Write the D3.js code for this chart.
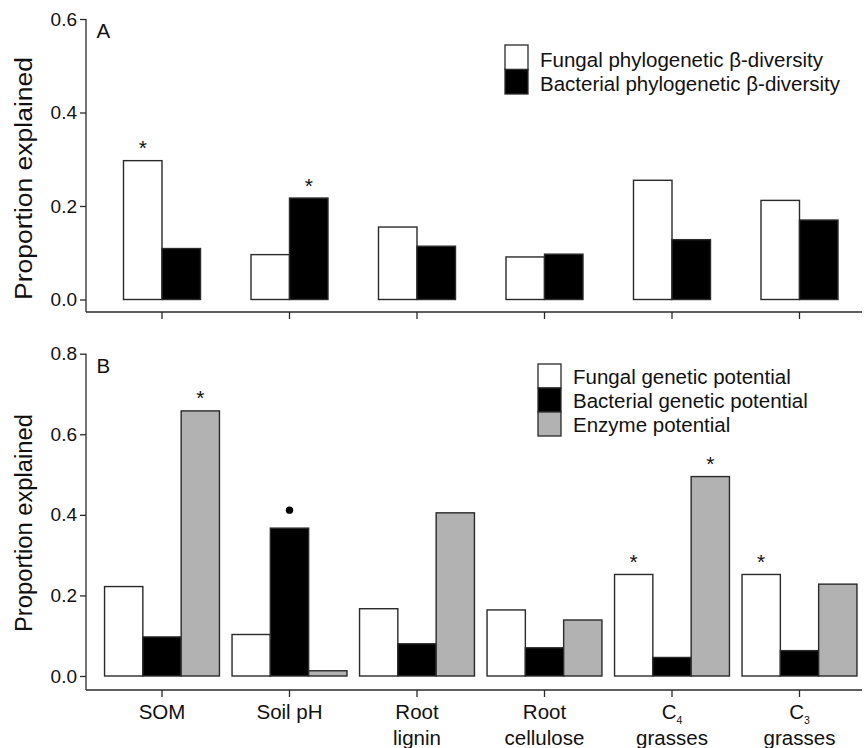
<!DOCTYPE html>
<html><head><meta charset="utf-8">
<script src="https://cdn.jsdelivr.net/npm/d3@7"></script>
<style>
body{margin:0;background:#fff}
svg{display:block}
text{font-family:"Liberation Sans",Arial,Helvetica,sans-serif;fill:#111}
</style>
</head><body>
<svg id="chart" width="864" height="748"></svg>
<script>
// ---- data ----
const categories = ["SOM", "Soil pH", "Root lignin", "Root cellulose", "C4 grasses", "C3 grasses"];
const catLine1 = ["SOM", "Soil pH", "Root", "Root", "C", "C"];
const catSub   = ["", "", "", "", "4", "3"];
const catLine2 = ["", "", "lignin", "cellulose", "grasses", "grasses"];

const seriesA = ["Fungal phylogenetic β-diversity", "Bacterial phylogenetic β-diversity"];
const fungalA    = [0.297, 0.096, 0.155, 0.091, 0.255, 0.212];
const bacterialA = [0.109, 0.217, 0.114, 0.097, 0.128, 0.170];

const seriesB = ["Fungal genetic potential", "Bacterial genetic potential", "Enzyme potential"];
const fungalB    = [0.222, 0.103, 0.167, 0.164, 0.252, 0.252];
const bacterialB = [0.097, 0.367, 0.080, 0.070, 0.046, 0.063];
const enzymeB    = [0.658, 0.013, 0.405, 0.139, 0.495, 0.228];

const ticksA = [0, 0.2, 0.4, 0.6];
const ticksB = [0, 0.2, 0.4, 0.6, 0.8];

// significance marks: category, series index, mark type
const sigA = [["SOM", 0, "*"], ["Soil pH", 1, "*"]];
const sigB = [["SOM", 2, "*"], ["Soil pH", 1, "dot"], ["C4 grasses", 0, "*"], ["C4 grasses", 2, "*"], ["C3 grasses", 0, "*"]];

const fills = ["#ffffff", "#000000", "#b2b2b2"];
const lineCol = "#2a2a2a";

const svg = d3.select("#chart");

const x = d3.scaleBand().domain(categories).range([98.25, 863.25]).paddingInner(0).paddingOuter(0);

function panel(cfg) {
  const g = svg.append("g");
  const y = d3.scaleLinear().domain([0, cfg.max]).range([cfg.y0, cfg.yTop]);
  const n = cfg.values.length;
  const sub = d3.scaleBand().domain(d3.range(n)).range([-n * cfg.bw / 2, n * cfg.bw / 2]).padding(0);

  // bars
  categories.forEach((c, i) => {
    const cx = x(c) + x.bandwidth() / 2;
    cfg.values.forEach((vals, s) => {
      g.append("rect")
        .attr("x", cx + sub(s))
        .attr("y", y(vals[i]))
        .attr("width", sub.bandwidth())
        .attr("height", y(0) - y(vals[i]))
        .attr("fill", fills[s])
        .attr("stroke", lineCol)
        .attr("stroke-width", 1.4);
    });
  });

  // significance marks
  cfg.sig.forEach(([c, s, m]) => {
    const cx = x(c) + x.bandwidth() / 2 + sub(s) + sub.bandwidth() / 2;
    const top = y(cfg.values[s][categories.indexOf(c)]);
    if (m === "dot") {
      g.append("circle").attr("cx", cx).attr("cy", top - 18).attr("r", 3.7).attr("fill", "#000");
    } else {
      g.append("text").attr("x", cx).attr("y", top - 5.5)
        .attr("text-anchor", "middle").attr("font-size", 21).text("*");
    }
  });

  // y axis
  const ya = g.append("g").attr("transform", `translate(${cfg.axisX},0)`)
    .call(d3.axisLeft(y).tickValues(cfg.ticks).tickFormat(d3.format(".1f")).tickSize(6).tickPadding(3));
  ya.select(".domain").remove();
  ya.selectAll(".tick line").attr("stroke", lineCol).attr("stroke-width", 1.3);
  ya.selectAll(".tick text").attr("font-size", 19).attr("font-family", "Liberation Sans, Arial, sans-serif").attr("fill", "#111");
  g.append("line").attr("x1", cfg.axisX).attr("x2", cfg.axisX)
    .attr("y1", y(cfg.max)).attr("y2", cfg.xAxisY).attr("stroke", lineCol).attr("stroke-width", 1.3);

  // x axis
  const xa = g.append("g").attr("transform", `translate(0,${cfg.xAxisY})`)
    .call(d3.axisBottom(x).tickSize(7).tickFormat(""));
  xa.select(".domain").remove();
  xa.selectAll(".tick line").attr("stroke", lineCol).attr("stroke-width", 1.3);
  g.append("line").attr("x1", cfg.axisX).attr("x2", 862)
    .attr("y1", cfg.xAxisY).attr("y2", cfg.xAxisY).attr("stroke", lineCol).attr("stroke-width", 1.3);

  // y label
  g.append("text")
    .attr("transform", `translate(31.5,${cfg.labelCY}) rotate(-90)`)
    .attr("text-anchor", "middle").attr("font-size", 23)
    .attr("textLength", cfg.labelLen).attr("lengthAdjust", "spacingAndGlyphs")
    .text("Proportion explained");

  // panel letter
  g.append("text").attr("x", 96.5).attr("y", cfg.letterY).attr("font-size", 20.5).text(cfg.letter);

  // legend
  cfg.series.forEach((name, s) => {
    const ly = cfg.legY + s * cfg.legH;
    g.append("rect").attr("x", cfg.legX).attr("y", ly).attr("width", 23).attr("height", cfg.legH)
      .attr("fill", fills[s]).attr("stroke", lineCol).attr("stroke-width", 1.3);
    g.append("text").attr("x", cfg.legX + 35).attr("y", ly + cfg.legH / 2 + cfg.legOff)
      .attr("font-size", 20.5).text(name);
  });
  return g;
}

panel({
  values: [fungalA, bacterialA], series: seriesA, sig: sigA, ticks: ticksA,
  max: 0.6, y0: 299.5, yTop: 19, xAxisY: 312, axisX: 86, bw: 38.5,
  labelCY: 178.5, labelLen: 243, letter: "A", letterY: 38,
  legX: 505, legY: 45, legH: 24.5, legOff: 9.5
});

const gB = panel({
  values: [fungalB, bacterialB, enzymeB], series: seriesB, sig: sigB, ticks: ticksB,
  max: 0.8, y0: 676, yTop: 353.7, xAxisY: 690, axisX: 86, bw: 38.3,
  labelCY: 523, labelLen: 218, letter: "B", letterY: 373,
  legX: 538, legY: 364, legH: 24, legOff: 7.5
});

// category labels under panel B
categories.forEach((c, i) => {
  const cx = x(c) + x.bandwidth() / 2;
  const t = gB.append("text").attr("x", cx).attr("y", 718.5).attr("text-anchor", "middle").attr("font-size", 20.5);
  t.append("tspan").text(catLine1[i]);
  if (catSub[i]) t.append("tspan").attr("font-size", 10.5).attr("dy", 5).text(catSub[i]);
  if (catLine2[i]) {
    gB.append("text").attr("x", cx).attr("y", 744.5).attr("text-anchor", "middle").attr("font-size", 20.5).text(catLine2[i]);
  }
});
</script>
</body></html>
